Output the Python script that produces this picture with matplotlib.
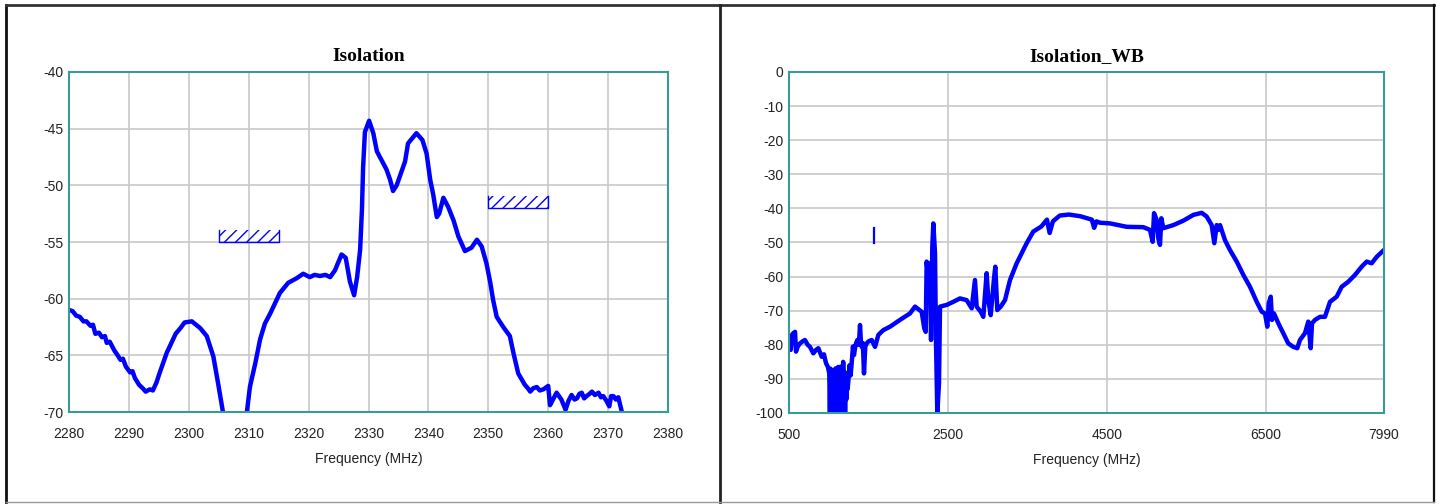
import matplotlib
matplotlib.use("Agg")
import matplotlib.pyplot as plt
from matplotlib.lines import Line2D

plt.rcParams['axes.unicode_minus'] = False
plt.rcParams['hatch.linewidth'] = 1.0
plt.rcParams['path.simplify'] = False

# narrow band isolation (MHz, dB)
nb_freq = [2280, 2280.6, 2281.2, 2281.8, 2282.4, 2282.9, 2283.6, 2284.0, 2284.4, 2285.0,
           2285.5, 2286.0, 2286.3, 2286.8, 2287.1, 2287.6, 2288.0, 2288.6, 2289.0, 2289.5,
           2290.2, 2290.6, 2291.0, 2291.7, 2292.3, 2292.8, 2293.5, 2294.0, 2294.6, 2295.1,
           2296.3, 2297.1, 2297.8, 2298.6, 2299.3, 2300.5, 2301.2, 2301.9, 2303.0, 2304.1,
           2304.9, 2305.7, 2306.5, 2307.5, 2309.0, 2309.7, 2310.2, 2311.1, 2311.9, 2312.7,
           2313.6, 2314.4, 2315.2, 2316.6, 2318.0, 2319.1, 2320.2, 2321.0, 2321.9, 2322.8,
           2323.6, 2324.4, 2325.5, 2326.2, 2326.9, 2327.6, 2328.1, 2328.6, 2328.9, 2329.1,
           2329.4, 2330.1, 2330.8, 2331.4, 2332.2, 2333.0, 2333.6, 2334.1, 2334.7, 2335.3,
           2336.1, 2336.6, 2338.0, 2339.0, 2339.7, 2340.3, 2340.8, 2341.4, 2341.8, 2342.5,
           2343.3, 2344.2, 2345.0, 2346.1, 2347.2, 2348.1, 2348.9, 2349.7, 2350.3, 2350.8,
           2351.4, 2352.5, 2353.6, 2354.2, 2355.0, 2356.1, 2356.6, 2357.0, 2357.5, 2358.1,
           2358.6, 2359.2, 2360.0, 2360.3, 2360.8, 2361.4, 2362.2, 2362.9, 2363.4, 2363.9,
           2364.4, 2364.8, 2365.2, 2365.6, 2366.0, 2366.4, 2366.9, 2367.3, 2367.8, 2368.4,
           2368.8, 2369.2, 2369.7, 2370.2, 2370.5, 2370.9, 2371.3, 2371.7, 2372.3]
nb_db = [-61.0, -61.1, -61.5, -61.6, -62.0, -62.0, -62.4, -62.3, -63.1, -63.0,
         -63.4, -63.3, -63.9, -63.8, -64.1, -64.6, -64.9, -65.4, -65.3, -66.0,
         -66.5, -66.4, -67.0, -67.6, -67.9, -68.2, -68.0, -68.1, -67.4, -66.6,
         -64.8, -63.9, -63.1, -62.6, -62.1, -62.0, -62.3, -62.6, -63.3, -65.1,
         -67.5, -70.0, -73.0, -76.0, -73.5, -70.0, -67.8, -65.7, -63.6, -62.2,
         -61.3, -60.4, -59.5, -58.6, -58.2, -57.8, -58.1, -57.9, -58.0, -57.9,
         -58.1, -57.5, -56.1, -56.4, -58.5, -59.7, -58.1, -55.7, -52.2, -48.4,
         -45.3, -44.3, -45.4, -47.0, -47.8, -48.6, -49.5, -50.5, -50.0, -49.1,
         -47.9, -46.3, -45.4, -46.0, -47.2, -49.5, -50.8, -52.8, -52.5, -51.1,
         -51.9, -53.1, -54.5, -55.8, -55.5, -54.8, -55.4, -56.9, -58.5, -60.1,
         -61.6, -62.5, -63.3, -64.8, -66.6, -67.6, -67.9, -68.2, -67.9, -67.8,
         -68.1, -68.0, -67.7, -69.4, -68.9, -68.3, -68.9, -69.8, -69.0, -68.5,
         -68.9, -68.8, -68.4, -68.3, -68.8, -68.6, -68.4, -68.2, -68.5, -68.3,
         -68.7, -68.6, -69.0, -69.5, -68.6, -68.6, -68.9, -68.7, -70.0]

# limit masks on the narrow band plot
mask_start = [2305, 2350]
mask_stop = [2315, 2360]
mask_db = [-55, -52]

# wide band isolation (MHz, dB)
wb_freq = [500, 513, 521, 540, 554, 576, 588, 610, 638, 670, 701, 735, 764, 806, 840,
           869, 912, 940, 966, 990, 1007, 1015, 1022, 1030, 1038, 1046, 1054, 1062, 1070,
           1078, 1086, 1094, 1102, 1110, 1118, 1126, 1134, 1142, 1150, 1158, 1166, 1174,
           1182, 1190, 1198, 1206, 1214, 1222, 1230, 1238, 1246, 1262, 1275, 1289, 1305,
           1318, 1331, 1345, 1360, 1380, 1394, 1405, 1415, 1430, 1444, 1460, 1478, 1500,
           1541, 1583, 1625, 1687, 1771, 1897, 2023, 2086, 2170, 2203, 2221, 2233, 2254,
           2275, 2288, 2304, 2317, 2338, 2350, 2367, 2388, 2401, 2485, 2568, 2652, 2736,
           2800, 2841, 2862, 2913, 2946, 2988, 3009, 3039, 3081, 3097, 3122, 3165, 3219,
           3282, 3366, 3492, 3575, 3677, 3747, 3781, 3822, 3908, 4023, 4167, 4312, 4341,
           4370, 4415, 4541, 4751, 4960, 5044, 5078, 5095, 5129, 5149, 5170, 5187, 5212,
           5338, 5464, 5590, 5695, 5758, 5821, 5854, 5884, 5904, 5926, 5988, 6051, 6136,
           6219, 6303, 6388, 6451, 6492, 6521, 6539, 6564, 6580, 6605, 6660, 6722, 6785,
           6848, 6898, 6932, 6995, 7037, 7067, 7084, 7121, 7184, 7247, 7310, 7394, 7457,
           7541, 7625, 7709, 7772, 7835, 7898, 7990]
wb_db = [-77.6, -78.0, -81.5, -77.0, -76.6, -76.2, -82.0, -80.5, -79.6, -79.0, -78.6,
         -80.0, -80.6, -82.5, -81.5, -81.0, -83.5, -82.8, -85.4, -86.5, -88.4, -100,
         -87.0, -100, -88.0, -100, -87.4, -100, -89.0, -100, -86.9, -100, -88.0, -100,
         -86.5, -100, -88.0, -100, -86.4, -100, -87.0, -100, -85.0, -100, -88.0, -100,
         -90.0, -96.0, -88.4, -93.0, -90.8, -86.0, -89.0, -85.4, -80.5, -83.0, -81.0,
         -79.5, -78.6, -80.0, -74.2, -79.0, -80.6, -79.5, -88.4, -80.5, -79.6, -79.0,
         -78.6, -80.6, -77.1, -75.7, -74.7, -72.7, -70.8, -68.8, -70.3, -75.2, -76.2,
         -55.6, -61.0, -56.1, -78.6, -51.2, -44.4, -53.2, -78.6, -100, -91.3, -68.8,
         -68.3, -67.4, -66.4, -66.9, -69.3, -61.0, -68.8, -70.3, -71.8, -59.0, -66.9,
         -71.3, -60.5, -57.1, -69.8, -68.8, -66.9, -61.0, -56.1, -50.2, -46.8, -45.3,
         -43.3, -47.2, -43.8, -42.1, -41.8, -42.3, -43.3, -45.7, -43.8, -44.2, -44.4,
         -45.4, -45.5, -46.3, -49.8, -41.4, -43.4, -48.8, -50.7, -42.9, -45.8, -44.9,
         -43.6, -41.9, -41.3, -42.4, -44.9, -50.2, -44.9, -46.3, -44.9, -49.3, -52.2,
         -55.6, -59.5, -63.0, -67.4, -70.3, -70.8, -74.7, -67.8, -65.9, -72.7, -70.8,
         -73.7, -76.6, -79.6, -80.6, -81.0, -78.6, -76.6, -73.2, -81.0, -73.7, -72.7,
         -71.8, -71.8, -67.4, -65.9, -63.0, -61.5, -59.5, -57.1, -55.6, -56.1, -54.2,
         -52.2]
# stray short trace near 1.57 GHz
wb_stub_freq = [1570, 1570]
wb_stub_db = [-45.8, -50.2]

nb_xticks = list(range(2280, 2381, 10))
nb_yticks = [-40, -45, -50, -55, -60, -65, -70]
wb_xticks = [500, 2500, 4500, 6500, 7990]
wb_yticks = list(range(0, -101, -10))

BLUE = '#0000ff'
TEAL = '#3a9a96'
GRID = '#c8c8c8'
TXT = '#222222'

fig = plt.figure(figsize=(14.39, 5.04), dpi=100)

ax1 = fig.add_axes([69 / 1439, 1 - 412 / 504, 599 / 1439, 340 / 504])
ax2 = fig.add_axes([789 / 1439, 1 - 413 / 504, 595 / 1439, 341 / 504])


def style(ax, title, xlim, ylim, xticks, yticks, xgrid):
    ax.set_xlim(*xlim)
    ax.set_ylim(*ylim)
    ax.set_xticks(xticks)
    ax.set_yticks(yticks)
    ax.set_xticklabels([str(t) for t in xticks])
    ax.set_yticklabels([str(t) for t in yticks])
    ax.tick_params(axis='x', length=0, pad=11, labelsize=10, labelcolor=TXT)
    ax.tick_params(axis='y', length=0, pad=4, labelsize=10, labelcolor=TXT)
    for lab in ax.get_xticklabels() + ax.get_yticklabels():
        lab.set_fontfamily('Liberation Sans')
    for g in xgrid:
        ax.axvline(g, color=GRID, lw=1.2, zorder=0)
    for g in yticks:
        ax.axhline(g, color=GRID, lw=1.2, zorder=0)
    for s in ax.spines.values():
        s.set_color(TEAL)
        s.set_linewidth(1.5)
        s.set_zorder(5)
    ax.set_title(title, fontsize=14, fontweight='bold', family='Liberation Serif', pad=8)
    ax.set_xlabel('Frequency (MHz)', fontsize=10, family='Liberation Sans', color=TXT, labelpad=8)


style(ax1, 'Isolation', (2280, 2380), (-70, -40), nb_xticks, nb_yticks, nb_xticks)
style(ax2, 'Isolation_WB', (500, 7990), (-100, 0), wb_xticks, wb_yticks, wb_xticks[1:-1])

ax1.plot(nb_freq, nb_db, color=BLUE, lw=3.2, zorder=3)
for f0, f1, lim in zip(mask_start, mask_stop, mask_db):
    ax1.fill_between([f0, f1], lim, lim + 1.1, hatch='///', facecolor='none',
                     edgecolor=BLUE, linewidth=0, zorder=2)
    ax1.plot([f0, f0, f1, f1], [lim + 1.1, lim, lim, lim + 1.1], color=BLUE, lw=1.0, zorder=2)

ax2.plot(wb_freq, wb_db, color=BLUE, lw=3.2, zorder=3)
ax2.plot(wb_stub_freq, wb_stub_db, color=BLUE, lw=1.6, zorder=3)

# screenshot frame
W, H = 1439, 504
frame = [((6 / W, 6 / W), (1 - 5 / H, 1 - 502 / H), '#111111', 2.0),
         ((6 / W, 1434 / W), (1 - 5 / H, 1 - 5 / H), '#333333', 2.0),
         ((1434 / W, 1434 / W), (1 - 5 / H, 1 - 502 / H), '#111111', 1.6),
         ((720 / W, 720 / W), (1 - 5 / H, 1 - 502 / H), '#222222', 2.0),
         ((6 / W, 1434 / W), (1 - 502 / H, 1 - 502 / H), '#999999', 1.0)]
for xs, ys, c, lw in frame:
    fig.add_artist(Line2D(xs, ys, color=c, lw=lw, transform=fig.transFigure))

fig.savefig('out.png', dpi=100)
